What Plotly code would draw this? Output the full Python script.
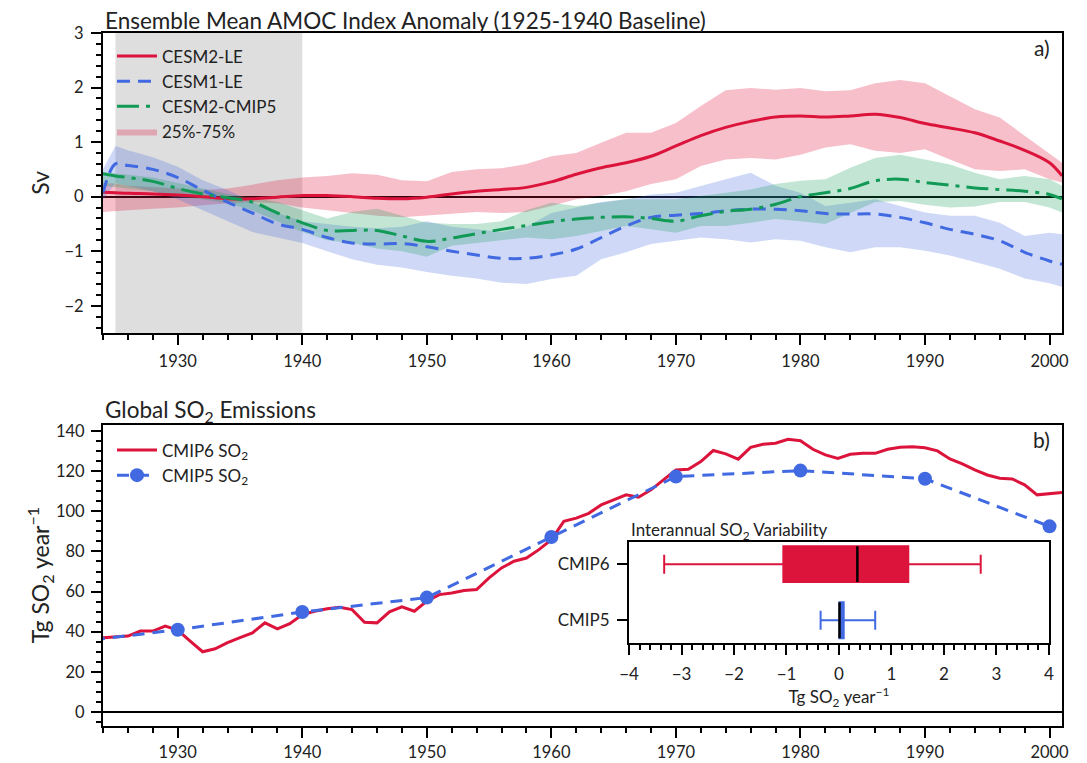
import plotly.graph_objects as go

# ---------------- Panel a data (Sv) ----------------
years_a = [1924, 1925, 1926, 1928, 1930, 1932, 1934, 1936, 1938, 1940, 1942, 1944, 1946, 1948,
           1950, 1952, 1954, 1956, 1958, 1960, 1962, 1964, 1966, 1968, 1970, 1972, 1974, 1976,
           1978, 1980, 1982, 1984, 1986, 1988, 1990, 1992, 1994, 1996, 1998, 2000, 2001]

cesm2_le = [0.08, 0.07, 0.06, 0.05, 0.03, 0.0, -0.04, -0.04, -0.01, 0.02, 0.02, 0.0, -0.03, -0.04,
            -0.01, 0.05, 0.1, 0.13, 0.17, 0.27, 0.41, 0.53, 0.62, 0.74, 0.93, 1.12, 1.27, 1.38,
            1.46, 1.48, 1.46, 1.48, 1.51, 1.45, 1.34, 1.26, 1.17, 1.02, 0.85, 0.62, 0.38]
cesm2_le_lo = [-0.28, -0.27, -0.25, -0.22, -0.2, -0.16, -0.12, -0.1, -0.12, -0.2, -0.25, -0.3, -0.35, -0.38,
               -0.35, -0.32, -0.28, -0.3, -0.28, -0.17, -0.05, 0.01, 0.1, 0.23, 0.32, 0.56, 0.68, 0.71,
               0.68, 0.77, 0.9, 0.96, 0.84, 0.8, 0.87, 0.68, 0.5, 0.47, 0.5, 0.32, 0.26]
cesm2_le_hi = [0.25, 0.24, 0.2, 0.18, 0.15, 0.12, 0.15, 0.22, 0.3, 0.35, 0.38, 0.43, 0.4, 0.3,
               0.28, 0.45, 0.5, 0.52, 0.6, 0.74, 0.8, 0.99, 1.17, 1.17, 1.35, 1.66, 1.95, 1.99,
               1.96, 1.99, 1.93, 1.95, 2.08, 2.14, 2.08, 1.84, 1.6, 1.45, 1.12, 0.8, 0.62]

cesm1_le = [0.07, 0.6, 0.57, 0.5, 0.35, 0.12, -0.1, -0.3, -0.5, -0.6, -0.75, -0.85, -0.87, -0.86,
            -0.92, -1.0, -1.07, -1.13, -1.13, -1.07, -0.96, -0.75, -0.54, -0.38, -0.34, -0.31, -0.26, -0.23,
            -0.23, -0.26, -0.31, -0.32, -0.32, -0.38, -0.48, -0.6, -0.69, -0.81, -1.02, -1.18, -1.24]
cesm1_le_lo = [-0.05, 0.25, 0.2, 0.1, -0.05, -0.25, -0.45, -0.65, -0.75, -0.85, -1.0, -1.15, -1.25, -1.3,
               -1.38, -1.45, -1.5, -1.58, -1.6, -1.51, -1.45, -1.15, -1.02, -0.87, -0.81, -0.75, -0.78, -0.84,
               -0.78, -0.81, -0.93, -1.02, -0.93, -0.93, -0.99, -1.08, -1.2, -1.32, -1.5, -1.59, -1.65]
cesm1_le_hi = [0.5, 0.93, 0.85, 0.72, 0.55, 0.3, 0.12, -0.1, -0.3, -0.45, -0.5, -0.55, -0.58, -0.55,
               -0.45, -0.55, -0.6, -0.65, -0.55, -0.3, -0.2, -0.1, -0.05, 0.04, 0.07, 0.2, 0.32, 0.44,
               0.2, 0.07, -0.17, -0.11, -0.05, -0.17, -0.29, -0.35, -0.35, -0.48, -0.72, -0.66, -0.69]

cesm2_cmip5 = [0.42, 0.38, 0.35, 0.28, 0.15, 0.05, -0.02, -0.1, -0.3, -0.48, -0.62, -0.62, -0.62, -0.72,
               -0.82, -0.76, -0.68, -0.6, -0.53, -0.46, -0.41, -0.38, -0.37, -0.4, -0.45, -0.35, -0.27, -0.23,
               -0.14, 0.0, 0.07, 0.15, 0.29, 0.32, 0.26, 0.21, 0.16, 0.13, 0.1, 0.04, -0.04]
cesm2_cmip5_lo = [0.2, 0.18, 0.15, 0.1, 0.0, -0.05, -0.12, -0.25, -0.45, -0.65, -0.8, -0.85, -0.95, -1.0,
                  -1.1, -0.9, -0.85, -0.8, -0.75, -0.78, -0.72, -0.63, -0.54, -0.6, -0.66, -0.54, -0.54, -0.48,
                  -0.41, -0.45, -0.5, -0.3, -0.1, -0.08, -0.15, -0.2, -0.18, -0.1, -0.1, -0.2, -0.29]
cesm2_cmip5_hi = [0.45, 0.43, 0.4, 0.35, 0.25, 0.15, 0.05, -0.02, -0.1, -0.25, -0.4, -0.28, -0.22, -0.35,
                  -0.48, -0.5, -0.5, -0.45, -0.25, -0.11, -0.17, -0.11, -0.05, -0.05, -0.05, 0.01, 0.07, 0.13,
                  0.23, 0.29, 0.32, 0.53, 0.71, 0.77, 0.68, 0.59, 0.44, 0.32, 0.38, 0.32, 0.2]

baseline_years = [1925, 1940]

# ---------------- Panel b data (Tg SO2 / yr) ----------------
years_cmip6 = list(range(1924, 2002))
cmip6_so2 = [37.0, 37.5, 37.8, 40.3, 40.3, 42.8, 40.8, 35.3, 30.0, 31.5, 34.5, 37.0, 39.4, 44.4, 41.4, 44.0,
             48.5, 50.2, 51.4, 52.2, 51.0, 44.7, 44.4, 49.9, 52.4, 50.2, 55.2, 58.5, 59.3, 60.5, 61.0, 66.8,
             71.8, 75.1, 76.7, 80.9, 85.8, 95.0, 96.6, 99.0, 103.2, 105.7, 108.2, 107.0, 110.7, 115.7, 120.6, 121.0,
             124.8, 130.3, 128.6, 126.0, 131.9, 133.4, 133.9, 135.9, 135.2, 130.9, 128.1, 126.4, 128.4, 128.9, 128.9,
             130.9, 131.9, 132.2, 131.7, 130.1, 126.1, 123.6, 120.6, 118.1, 116.5, 116.1, 113.2, 108.2, 108.7, 109.4]

years_cmip5 = [1920, 1930, 1940, 1950, 1960, 1970, 1980, 1990, 2000]
cmip5_so2 = [33.5, 41.0, 49.8, 57.0, 87.2, 117.3, 120.3, 116.2, 92.5]

# ---------------- Inset box statistics ----------------
box_names = ["CMIP6", "CMIP5"]
box_pos = [1, 0]
box_lowerfence = [-3.33, -0.35]
box_q1 = [-1.06, 0.01]
box_median = [0.35, 0.01]
box_q3 = [1.32, 0.09]
box_upperfence = [2.70, 0.69]
box_colors = ["#DC143C", "#4169E1"]

RED = "#DC143C"
BLUE = "#4169E1"
GREEN = "#119A55"
FONT = "Lato"
TXT = "#222222"

fig = go.Figure()

def band(x, lo, hi, rgba, name=None, show=False, rank=1000):
    fig.add_trace(go.Scatter(x=x, y=lo, mode="lines", line=dict(width=0), hoverinfo="skip",
                             showlegend=False, xaxis="x", yaxis="y"))
    fig.add_trace(go.Scatter(x=x, y=hi, mode="lines", line=dict(width=0), fill="tonexty",
                             fillcolor=rgba, name=name, showlegend=show, legend="legend",
                             legendrank=rank, xaxis="x", yaxis="y"))

band(years_a, cesm2_le_lo, cesm2_le_hi, "rgba(220,20,60,0.27)", "25%-75%", True, 4)
band(years_a, cesm1_le_lo, cesm1_le_hi, "rgba(65,105,225,0.25)")
band(years_a, cesm2_cmip5_lo, cesm2_cmip5_hi, "rgba(17,154,85,0.25)")

fig.add_trace(go.Scatter(x=years_a, y=cesm2_le, mode="lines", name="CESM2-LE",
                         line=dict(color=RED, width=3), line_shape="spline",
                         legend="legend", legendrank=1, xaxis="x", yaxis="y"))
fig.add_trace(go.Scatter(x=years_a, y=cesm1_le, mode="lines", name="CESM1-LE",
                         line=dict(color=BLUE, width=3, dash="13px,8px"), line_shape="spline",
                         legend="legend", legendrank=2, xaxis="x", yaxis="y"))
fig.add_trace(go.Scatter(x=years_a, y=cesm2_cmip5, mode="lines", name="CESM2-CMIP5",
                         line=dict(color=GREEN, width=3, dash="22px,7px,4px,7px"), line_shape="spline",
                         legend="legend", legendrank=3, xaxis="x", yaxis="y"))

# Panel b
fig.add_trace(go.Scatter(x=years_cmip6, y=cmip6_so2, mode="lines", name="CMIP6 SO<sub>2</sub>",
                         line=dict(color=RED, width=3), legend="legend2", xaxis="x2", yaxis="y2"))
fig.add_trace(go.Scatter(x=years_cmip5, y=cmip5_so2, mode="lines+markers", name="CMIP5 SO<sub>2</sub>",
                         line=dict(color=BLUE, width=3, dash="12px,8px"),
                         marker=dict(color=BLUE, size=14), cliponaxis=True,
                         legend="legend2", xaxis="x2", yaxis="y2"))

# Inset boxes
for i in range(len(box_names)):
    fig.add_trace(go.Box(y=[box_pos[i]], q1=[box_q1[i]], median=[box_median[i]], q3=[box_q3[i]],
                         lowerfence=[box_lowerfence[i]], upperfence=[box_upperfence[i]],
                         orientation="h", fillcolor=box_colors[i], line=dict(color=box_colors[i], width=2),
                         width=0.64, whiskerwidth=0.53, showlegend=False, hoverinfo="skip",
                         xaxis="x3", yaxis="y3"))
    fig.add_trace(go.Scatter(x=[box_median[i], box_median[i]],
                             y=[box_pos[i] - 0.32, box_pos[i] + 0.32], mode="lines",
                             line=dict(color="black", width=2.5), showlegend=False, hoverinfo="skip",
                             xaxis="x3", yaxis="y3"))

# baseline shading
fig.add_shape(type="rect", xref="x", yref="y domain", x0=baseline_years[0], x1=baseline_years[1],
              y0=0, y1=1, fillcolor="#DEDEDE", line=dict(width=0), layer="below")

axis_common = dict(showline=True, linewidth=2, linecolor="black", mirror=True, ticks="outside",
                   tickwidth=2, ticklen=10, tickcolor="black", showgrid=False, automargin=False,
                   tickfont=dict(family=FONT, size=16.5, color=TXT))
xa = dict(axis_common, range=[1924, 2001], dtick=10, tick0=1930,
          minor=dict(dtick=2, tick0=1924, ticklen=5, tickwidth=1.5, ticks="outside", tickcolor="black"))

fig.update_layout(
    width=1087, height=763,
    margin=dict(l=103, r=25, t=33, b=37, autoexpand=False),
    paper_bgcolor="white", plot_bgcolor="white",
    font=dict(family=FONT, color=TXT),
    xaxis=dict(xa, domain=[0, 1], anchor="y", ticklabelstandoff=2),
    yaxis=dict(axis_common, domain=[0.5671, 1], range=[-2.5, 3], dtick=1, anchor="x",
               ticklabelstandoff=4,
               zeroline=True, zerolinecolor="black", zerolinewidth=1.5,
               minor=dict(dtick=0.2, ticklen=5, tickwidth=1.5, ticks="outside", tickcolor="black")),
    xaxis2=dict(xa, domain=[0, 1], anchor="y2", ticklabelstandoff=0),
    yaxis2=dict(axis_common, domain=[0, 0.4343], range=[-7, 143], dtick=20, anchor="x2",
                ticklabelstandoff=3,
                zeroline=True, zerolinecolor="black", zerolinewidth=2,
                minor=dict(dtick=5, ticklen=5, tickwidth=1.5, ticks="outside", tickcolor="black")),
    xaxis3=dict(axis_common, domain=[0.5485, 0.9864], range=[-4, 4], dtick=1, anchor="y3", ticklen=10,
                ticklabelstandoff=5,
                minor=dict(dtick=0.2, ticklen=5, tickwidth=1.5, ticks="outside", tickcolor="black"),
                tickfont=dict(family=FONT, size=17, color=TXT),
                title=dict(text="Tg SO<sub>2</sub> year<sup>−1</sup>", standoff=2,
                           font=dict(family=FONT, size=17, color=TXT))),
    yaxis3=dict(axis_common, domain=[0.1202, 0.2659], range=[-0.4, 1.4], anchor="x3",
                tickvals=box_pos, ticktext=box_names, ticklen=10, ticklabelstandoff=4,
                tickfont=dict(family=FONT, size=17, color=TXT)),
    legend=dict(x=0.0094, y=0.992, xanchor="left", yanchor="top", bgcolor="rgba(0,0,0,0)",
                itemwidth=40,
                font=dict(family=FONT, size=17, color=TXT), traceorder="normal"),
    legend2=dict(x=0.0094, y=0.4235, xanchor="left", yanchor="top", bgcolor="rgba(0,0,0,0)",
                 itemwidth=40,
                 font=dict(family=FONT, size=17, color=TXT)),
    annotations=[
        dict(text="Ensemble Mean AMOC Index Anomaly (1925-1940 Baseline)", xref="x domain", yref="y domain",
             x=0, y=1, xanchor="left", yanchor="bottom", showarrow=False, yshift=-3,
             font=dict(family=FONT, size=22.5, color=TXT)),
        dict(text="Global SO<sub>2</sub> Emissions", xref="x2 domain", yref="y2 domain",
             x=0, y=1, xanchor="left", yanchor="bottom", showarrow=False, yshift=-3,
             font=dict(family=FONT, size=22.5, color=TXT)),
        dict(text="a)", xref="x domain", yref="y domain", x=0.99, y=1.0, xanchor="right",
             yanchor="top", showarrow=False, font=dict(family=FONT, size=21, color=TXT)),
        dict(text="b)", xref="x2 domain", yref="y2 domain", x=0.99, y=1.0, xanchor="right",
             yanchor="top", showarrow=False, font=dict(family=FONT, size=21, color=TXT)),
        dict(text="Sv", xref="paper", yref="y domain", x=-0.066, y=0.5, xanchor="center",
             yanchor="middle", textangle=-90, showarrow=False, font=dict(family=FONT, size=23, color=TXT)),
        dict(text="Tg SO<sub>2</sub> year<sup>−1</sup>", xref="paper", yref="y2 domain", x=-0.066, y=0.5,
             xanchor="center", yanchor="middle", textangle=-90, showarrow=False,
             font=dict(family=FONT, size=23, color=TXT)),
        dict(text="Interannual SO<sub>2</sub> Variability", xref="x3 domain", yref="y3 domain",
             x=0, y=1, xanchor="left", yanchor="bottom", showarrow=False, yshift=-3,
             font=dict(family=FONT, size=17, color=TXT)),
    ],
)

fig.write_html("out.html")
